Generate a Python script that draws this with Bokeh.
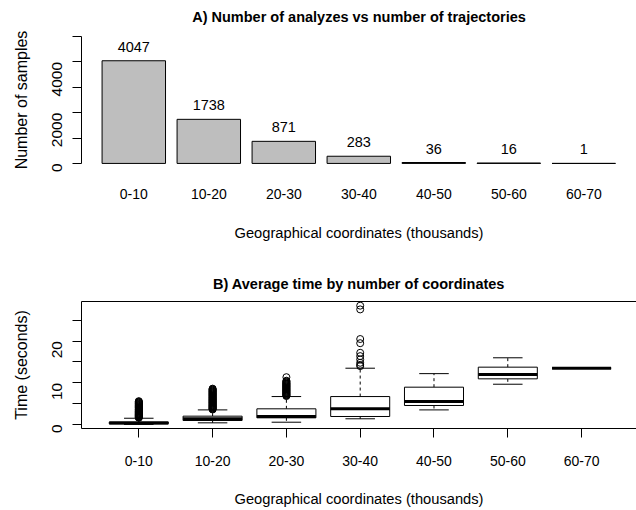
import math
from bokeh.plotting import figure
from bokeh.models import FixedTicker, LinearAxis, Range1d, ColumnDataSource
from bokeh.layouts import column
from bokeh.embed import file_html
from bokeh.resources import INLINE
from bokeh.core.properties import value

FONT = "Liberation Sans"

# ---------------- data ----------------
categories = ["0-10", "10-20", "20-30", "30-40", "40-50", "50-60", "60-70"]
samples = [4047, 1738, 871, 283, 36, 16, 1]
bar_ticks = [0, 1000, 2000, 3000, 4000, 5000]
bar_tick_labels = ["0", "", "2000", "", "4000", ""]

box_lower = [0.02, 0.4, 0.55, 1.37, 3.5, 9.66, 13.5]
box_q1 = [0.15, 0.96, 1.6, 1.92, 4.56, 10.95, 13.5]
box_median = [0.35, 1.4, 1.92, 3.76, 5.5, 12.0, 13.5]
box_q3 = [0.6, 2.0, 3.76, 6.7, 8.95, 13.75, 13.5]
box_upper = [1.5, 3.5, 6.7, 13.5, 12.2, 16.0, 13.5]

outliers_0_10 = [1.62, 1.7, 1.8, 1.88, 1.95, 2.05, 2.15, 2.22, 2.35, 2.44, 2.5, 2.63,
                 2.7, 2.84, 2.9, 3.02, 3.15, 3.21, 3.33, 3.45, 3.52, 3.64, 3.71, 3.85,
                 3.97, 4.05, 4.18, 4.26, 4.37, 4.5, 4.62, 4.71, 4.85, 4.98, 5.1, 5.24,
                 5.37, 5.48, 5.6]
outliers_10_20 = [3.6, 3.7, 3.82, 3.9, 4.03, 4.15, 4.22, 4.36, 4.45, 4.58, 4.66, 4.8,
                  4.91, 5.02, 5.15, 5.27, 5.35, 5.49, 5.6, 5.72, 5.84, 5.93, 6.05, 6.18,
                  6.3, 6.41, 6.55, 6.63, 6.78, 6.9, 7.02, 7.14, 7.25, 7.38, 7.5, 7.61,
                  7.75, 7.86, 7.98, 8.1, 8.24, 8.35, 8.48, 8.6]
outliers_20_30 = [6.82, 6.95, 7.05, 7.18, 7.3, 7.41, 7.55, 7.66, 7.78, 7.9, 8.04, 8.15,
                  8.27, 8.4, 8.52, 8.63, 8.77, 8.9, 9.02, 9.15, 9.26, 9.4, 9.52, 9.66,
                  9.78, 9.9, 10.05, 10.2, 10.35, 10.5, 11.35]
outliers_30_40 = [14.0, 14.3, 14.8, 15.6, 16.4, 17.2, 19.5, 20.5, 27.6, 28.5]
outliers_40_50 = []
outliers_50_60 = []
outliers_60_70 = []
outliers = [outliers_0_10, outliers_10_20, outliers_20_30, outliers_30_40,
            outliers_40_50, outliers_50_60, outliers_60_70]

time_ticks = [0, 5, 10, 15, 20, 25]
time_tick_labels = ["0", "", "10", "", "20", ""]

title_a = "A) Number of analyzes vs number of trajectories"
title_b = "B) Average time by number of coordinates"
xlabel = "Geographical coordinates (thousands)"
ylabel_a = "Number of samples"
ylabel_b = "Time (seconds)"

positions = list(range(1, len(categories) + 1))


def style_axis(ax, vertical=False):
    ax.major_label_text_font = FONT
    ax.major_label_text_font_size = "15.5px" if vertical else "14px"
    ax.major_label_text_color = "black"
    ax.axis_label_text_font = FONT
    ax.axis_label_text_font_size = "16px" if vertical else "14.7px"
    ax.axis_label_text_font_style = "normal"
    ax.axis_label_text_color = "black"
    ax.axis_line_color = "black"
    ax.major_tick_line_color = "black"
    ax.minor_tick_line_color = None
    ax.major_tick_in = 0
    ax.major_tick_out = 9


def style_title(p, text, standoff):
    p.title.text = text
    p.title.text_font = FONT
    p.title.text_font_size = "14.5px"
    p.title.text_font_style = "bold"
    p.title.text_color = "black"
    p.title.align = "center"
    p.title.standoff = standoff


# ---------------- panel A: bar chart ----------------
p1 = figure(width=636, height=255,
            x_range=Range1d(0.3027, 7.7027), y_range=Range1d(-200, 5200),
            x_axis_type=None, y_axis_type=None,
            min_border_left=81, min_border_right=0,
            min_border_top=30, min_border_bottom=87,
            output_backend="svg", toolbar_location=None)
p1.outline_line_color = None
p1.background_fill_color = "white"
p1.border_fill_color = "white"
style_title(p1, title_a, 13)

src1 = ColumnDataSource(dict(x=positions, top=samples,
                             label=[str(v) for v in samples]))
p1.vbar(x="x", top="top", bottom=0, width=0.846, source=src1,
        fill_color="#BEBEBE", line_color="black", line_width=1)
p1.text(x="x", y="top", text="label", source=src1, y_offset=-14,
        text_align="center", text_baseline="middle",
        text_font=value(FONT), text_font_size="14.5px", text_color="black")

ya = LinearAxis(ticker=FixedTicker(ticks=bar_ticks),
                major_label_overrides={t: l for t, l in zip(bar_ticks, bar_tick_labels)})
style_axis(ya, vertical=True)
ya.bounds = (bar_ticks[0], bar_ticks[-1])
ya.major_label_orientation = math.pi / 2
ya.major_label_standoff = 15
ya.axis_label = ylabel_a
ya.axis_label_standoff = 15
p1.add_layout(ya, "left")

xa = LinearAxis(ticker=FixedTicker(ticks=positions),
                major_label_overrides={t: c for t, c in zip(positions, categories)})
style_axis(xa)
xa.axis_line_color = None
xa.major_tick_line_color = None
xa.major_tick_out = 0
xa.major_label_standoff = 20
xa.axis_label = xlabel
xa.axis_label_standoff = 23
p1.add_layout(xa, "below")

# ---------------- panel B: box plot ----------------
p2 = figure(width=636, height=254,
            x_range=Range1d(0.2236, 7.744), y_range=Range1d(-0.96, 29.5),
            x_axis_type=None, y_axis_type=None,
            min_border_left=81, min_border_right=0,
            min_border_top=46, min_border_bottom=81,
            output_backend="svg", toolbar_location=None)
p2.outline_line_color = None
p2.background_fill_color = "white"
p2.border_fill_color = "white"
style_title(p2, title_b, 20)

half = 0.4
cap = 0.2
src2 = ColumnDataSource(dict(
    x=positions, lo=box_lower, q1=box_q1, med=box_median, q3=box_q3, hi=box_upper,
    left=[x - half for x in positions], right=[x + half for x in positions],
    cl=[x - cap for x in positions], cr=[x + cap for x in positions]))

# whiskers
p2.segment(x0="x", y0="q3", x1="x", y1="hi", source=src2,
           line_color="black", line_width=1, line_dash="3 3")
p2.segment(x0="x", y0="q1", x1="x", y1="lo", source=src2,
           line_color="black", line_width=1, line_dash="3 3")
# staples
p2.segment(x0="cl", y0="hi", x1="cr", y1="hi", source=src2,
           line_color="black", line_width=1)
p2.segment(x0="cl", y0="lo", x1="cr", y1="lo", source=src2,
           line_color="black", line_width=1)
# boxes
p2.quad(left="left", right="right", bottom="q1", top="q3", source=src2,
        fill_color="white", line_color="black", line_width=1)
# medians
p2.segment(x0="left", y0="med", x1="right", y1="med", source=src2,
           line_color="black", line_width=3, line_cap="butt")
# outliers
ox, oy = [], []
for pos, vals in zip(positions, outliers):
    for v in vals:
        ox.append(pos)
        oy.append(v)
p2.scatter(x=ox, y=oy, marker="circle", size=7, fill_color=None,
           line_color="black", line_width=1)

yb = LinearAxis(ticker=FixedTicker(ticks=time_ticks),
                major_label_overrides={t: l for t, l in zip(time_ticks, time_tick_labels)})
style_axis(yb, vertical=True)
yb.major_label_orientation = math.pi / 2
yb.major_label_standoff = 15
yb.axis_label = ylabel_b
yb.axis_label_standoff = 15
p2.add_layout(yb, "left")

xb = LinearAxis(ticker=FixedTicker(ticks=positions),
                major_label_overrides={t: c for t, c in zip(positions, categories)})
style_axis(xb)
xb.major_label_standoff = 18
xb.axis_label = xlabel
xb.axis_label_standoff = 22
p2.add_layout(xb, "below")

top_frame = LinearAxis(ticker=FixedTicker(ticks=[]))
top_frame.axis_line_color = "black"
top_frame.major_tick_line_color = None
top_frame.minor_tick_line_color = None
top_frame.major_label_text_font_size = "0px"
top_frame.major_tick_out = 0
top_frame.major_tick_in = 0
top_frame.major_label_standoff = 0
p2.add_layout(top_frame, "above")

layout = column(p1, p2)
open("out.html", "w").write(file_html(layout, INLINE))
